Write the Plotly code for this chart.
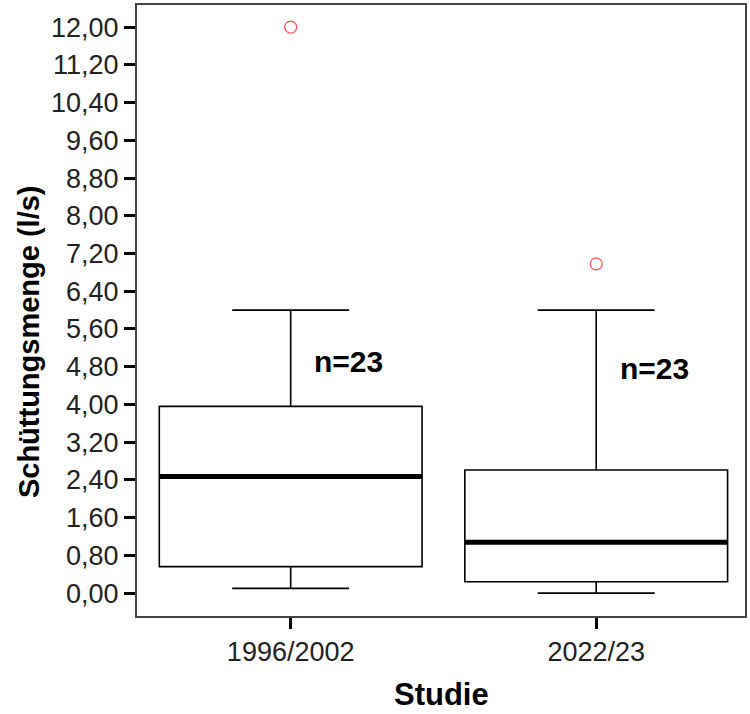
import plotly.graph_objects as go

# ---- data ----
categories = ["1996/2002", "2022/23"]
q1 = [0.56, 0.24]
median = [2.47, 1.08]
q3 = [3.96, 2.61]
lower_whisker = [0.10, 0.00]
upper_whisker = [6.00, 6.00]
outliers = [[12.00], [6.98]]
n_counts = [23, 23]
n_label_y = [4.92, 4.77]

y_tickvals = [0.0, 0.8, 1.6, 2.4, 3.2, 4.0, 4.8, 5.6, 6.4, 7.2, 8.0, 8.8, 9.6, 10.4, 11.2, 12.0]
y_ticktext = ["0,00", "0,80", "1,60", "2,40", "3,20", "4,00", "4,80", "5,60", "6,40",
              "7,20", "8,00", "8,80", "9,60", "10,40", "11,20", "12,00"]

box_width = 0.86
positions = list(range(len(categories)))
FONT = "Liberation Sans, Arial, sans-serif"

W, H = 750, 714
ml, mr, mt, mb = 137, 4, 3, 98
pw, ph = W - ml - mr, H - mt - mb

fig = go.Figure()

for i, pos in enumerate(positions):
    fig.add_trace(go.Box(
        x=[pos], q1=[q1[i]], median=[median[i]], q3=[q3[i]],
        lowerfence=[lower_whisker[i]], upperfence=[upper_whisker[i]],
        width=box_width, whiskerwidth=0.445,
        fillcolor="white", line=dict(color="black", width=1.6),
        boxpoints=False, showlegend=False, hoverinfo="skip",
    ))
    # thick median line
    fig.add_trace(go.Scatter(
        x=[pos - box_width / 2, pos + box_width / 2], y=[median[i], median[i]],
        mode="lines", line=dict(color="black", width=5),
        showlegend=False, hoverinfo="skip",
    ))
    # outliers
    fig.add_trace(go.Scatter(
        x=[pos] * len(outliers[i]), y=outliers[i], mode="markers",
        marker=dict(symbol="circle-open", size=12, color="#ff5050", line=dict(width=1.2)),
        showlegend=False, hoverinfo="skip",
    ))
    fig.add_annotation(
        x=pos + 0.19, y=n_label_y[i], xref="x", yref="y",
        text=f"<b>n={n_counts[i]}</b>", showarrow=False,
        xanchor="center", yanchor="middle",
        font=dict(family=FONT, size=30, color="black"),
    )

fig.add_annotation(
    x=(29 - ml) / pw, y=(H - mb - 341) / ph, xref="paper", yref="paper",
    text="<b>Schüttungsmenge (l/s)</b>", xanchor="center", yanchor="middle",
    showarrow=False, textangle=-90, font=dict(family=FONT, size=29, color="black"),
)
fig.add_annotation(
    x=0.5, y=(H - mb - 695) / ph, xref="paper", yref="paper", text="<b>Studie</b>",
    xanchor="center", yanchor="middle",
    showarrow=False, font=dict(family=FONT, size=31, color="black"),
)

fig.update_layout(
    width=W, height=H,
    margin=dict(l=ml, r=mr, t=mt, b=mb),
    paper_bgcolor="white", plot_bgcolor="white",
    font=dict(family=FONT, color="#222222"),
    xaxis=dict(
        range=[-0.503, 1.487], tickvals=positions, ticktext=categories,
        showgrid=False, zeroline=False, showline=True, mirror=True,
        linecolor="#444444", linewidth=2,
        ticks="outside", ticklen=11, tickwidth=3, tickcolor="black",
        tickfont=dict(family=FONT, size=27, color="#222222"),
    ),
    yaxis=dict(
        range=[-0.486, 12.47], tickvals=y_tickvals, ticktext=y_ticktext,
        showgrid=False, zeroline=False, showline=True, mirror=True,
        linecolor="#444444", linewidth=2,
        ticks="outside", ticklen=11, tickwidth=3, tickcolor="black",
        tickfont=dict(family=FONT, size=27, color="#222222"),
    ),
)

fig.write_html("out.html")
